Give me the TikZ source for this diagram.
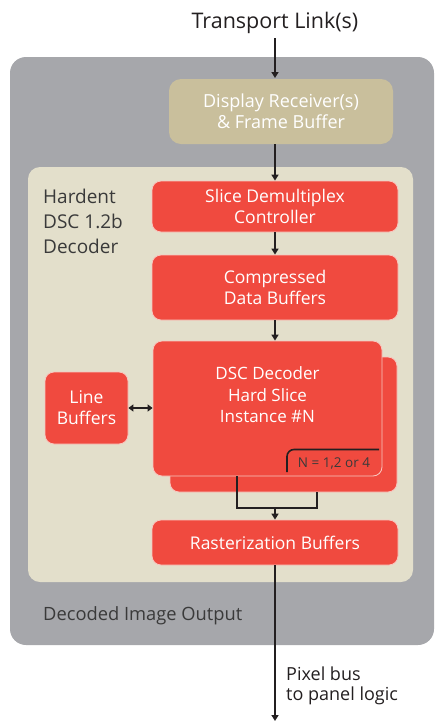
\documentclass[tikz,border=0pt]{standalone}
\usepackage{fontspec}
\setmainfont{Open Sans}
\usetikzlibrary{arrows.meta}
\definecolor{outergray}{HTML}{A6A7AB}
\definecolor{beige}{HTML}{E3DFCB}
\definecolor{tan}{HTML}{C9BF9C}
\definecolor{boxred}{HTML}{F04A3F}
\definecolor{edgepink}{HTML}{F8C8C0}
\definecolor{ink}{HTML}{231F20}
\definecolor{darktext}{HTML}{3A3A3A}
\tikzset{
  redbox/.style={fill=boxred, draw=edgepink, line width=0.8pt, rounded corners=9pt, text=white, align=center, font=\fontsize{17.5}{21}\selectfont, inner sep=0pt},
  conn/.style={draw=ink, line width=1.8pt, -{Triangle[length=6pt,width=7pt]}},
  plain/.style={draw=ink, line width=2.2pt},
  label/.style={text=darktext, font=\fontsize{19}{25}\selectfont, align=left, inner sep=0pt}
}
\begin{document}
\begin{tikzpicture}[x=1pt,y=-1pt]
\useasboundingbox (0,0) rectangle (435,721);
% outer and inner panels
\fill[outergray, rounded corners=16pt] (10,57) rectangle (434,645);
\fill[beige, rounded corners=12pt] (28,167) rectangle (413,582);
% boxes
\node[fill=tan, rounded corners=12pt, text=white, align=center, font=\fontsize{18}{21}\selectfont, minimum width=224pt, minimum height=65pt, inner sep=0pt] (rx) at (281,111.5) {Display Receiver(s)\\ \& Frame Buffer};
\node[redbox, minimum width=246pt, minimum height=51pt] (demux) at (275,206.5) {Slice Demultiplex\\Controller};
\node[redbox, minimum width=246pt, minimum height=65pt] (cdb) at (275,287.5) {Compressed\\Data Buffers};
\node[redbox, minimum width=227pt, minimum height=135pt] (back) at (283.5,424.5) {};
\node[redbox, minimum width=229pt, minimum height=135pt] (dec) at (267.5,408.5) {};
\node[text=white, align=center, font=\fontsize{17}{21.5}\selectfont, inner sep=0pt] (dectext) at (267.5,395) {DSC Decoder\\Hard Slice\\Instance \#N};
\node[redbox, minimum width=83pt, minimum height=72pt] (lb) at (86.5,408) {Line\\Buffers};
\node[redbox, minimum width=246pt, minimum height=45pt] (rast) at (275,542.5) {Rasterization Buffers};
% N label
\coordinate (nstart) at (287,472);
\coordinate (nend) at (379,449.5);
\draw[ink, line width=1.6pt, rounded corners=7pt] (nstart) |- (nend);
\node[text=darktext, font=\fontsize{13.5}{15}\selectfont, inner sep=0pt] (nlab) at (334,463) {N = 1,2 or 4};
% texts
\node[text=ink, font=\fontsize{21.5}{25}\selectfont, inner sep=0pt] (tl) at (275,23) {Transport Link(s)};
\node[label, anchor=north west] (hd) at (43,189) {Hardent\\DSC 1.2b\\Decoder};
\node[label, anchor=west, font=\fontsize{18.3}{22}\selectfont] (dio) at (43,616) {Decoded Image Output};
\node[text=ink, font=\fontsize{18}{20}\selectfont, align=left, inner sep=0pt, anchor=west] (pb) at (286,686) {Pixel bus\\to panel logic};
% connectors
\coordinate (tltop) at (275,38);
\coordinate (tlend) at (275,78);
\coordinate (outend) at (275,721);
\draw[conn] (tltop) -- (tlend);
\draw[conn] (rx.south -| tltop) -- (demux.north);
\draw[conn] (demux.south) -- (cdb.north);
\draw[conn] (cdb.south) -- (cdb.south |- dec.north);
\draw[draw=ink, line width=1.8pt, {Triangle[length=5pt,width=7pt]}-{Triangle[length=5pt,width=7pt]}] (lb.east) -- (lb.east -| dec.west);
\coordinate (bl) at (237,508);
\coordinate (br) at (317,508);
\coordinate (bm) at (275,507);
\draw[plain] (dec.south -| bl) -- (bl) -- (br) -- (back.south -| br);
\draw[conn] (bm) -- (rast.north);
\draw[conn] (rast.south) -- (outend);
\end{tikzpicture}
\end{document}
